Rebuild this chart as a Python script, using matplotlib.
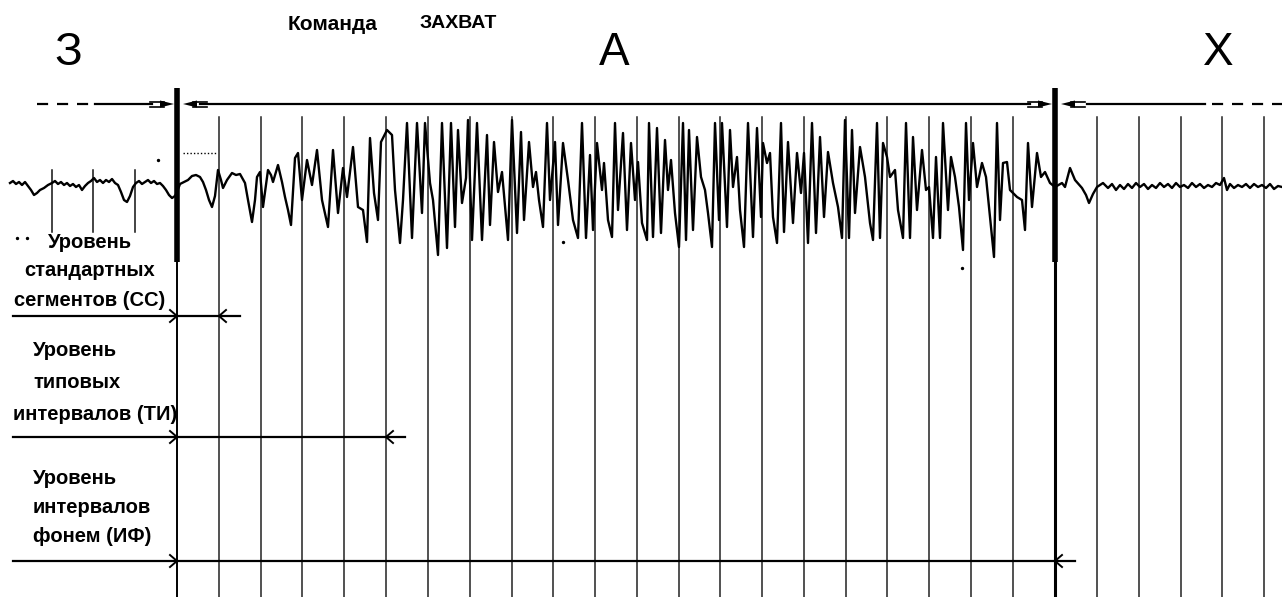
import numpy as np
import matplotlib.pyplot as plt
from matplotlib.patches import Polygon

# segment boundaries (horizontal position on the 1282 px wide sheet)
boundaries = [52, 93, 135, 177, 219, 261, 302, 344, 386, 428, 470, 512, 553,
              595, 637, 679, 720, 762, 804, 846, 887, 929, 971, 1013, 1055,
              1097, 1139, 1181, 1222, 1264]
word_start = 177
word_end = 1055

# phoneme labels over the word
phonemes = ["З", "А", "Х"]
phoneme_x = [68, 614, 1218]

# levels of segmentation: label, row, boundary where the interval ends
level_names = ["Уровень\nстандартных\nсегментов (СС)",
               "Уровень\nтиповых\nинтервалов (ТИ)",
               "Уровень\nинтервалов\nфонем (ИФ)"]
level_rows = [316, 437, 561]
level_ends = [219, 386, 1055]
level_tails = [240, 405, 1075]

# speech signal, turning points (time, level on sheet)
wave_t = [10, 13, 16, 19, 22, 25, 28, 31, 34, 37, 40, 44, 48, 52, 55, 58, 61, 64, 67, 70,
          73, 76, 79, 82, 85, 88, 91, 94, 97, 100, 103, 106, 109, 112, 115, 118, 121, 124,
          127, 130, 133, 136, 139, 142, 145, 148, 151, 154, 157, 160, 163, 166, 169, 172,
          175, 177, 180, 184, 188, 192, 196, 200, 203, 206, 209, 212, 215, 218, 221, 223,
          227, 232, 236, 240, 245, 248, 252, 255, 257, 260, 263, 266, 268, 271, 273, 276,
          278, 282, 285, 288, 291, 295, 298, 302, 307, 312, 317, 322, 328, 333, 338, 343,
          347, 353, 358, 363, 367, 370, 374, 378, 381, 387, 392, 395, 400, 403, 407, 412,
          417, 422, 425, 430, 433, 438, 442, 447, 451, 455, 458, 462, 466, 468, 472, 477,
          482, 487, 490, 494, 498, 502, 508, 512, 517, 521, 524, 529, 533, 536, 539, 543,
          547, 550, 555, 558, 563, 568, 573, 578, 582, 586, 590, 593, 597, 602, 604, 608,
          612, 615, 618, 623, 627, 631, 635, 638, 642, 647, 649, 653, 657, 661, 665, 668,
          671, 675, 679, 683, 686, 689, 693, 697, 701, 705, 708, 712, 715, 719, 722, 727,
          730, 733, 737, 740, 744, 748, 753, 757, 761, 763, 767, 770, 773, 777, 781, 784,
          788, 793, 797, 801, 804, 808, 812, 816, 820, 824, 828, 833, 838, 842, 845, 849,
          852, 855, 860, 865, 870, 873, 877, 880, 883, 887, 890, 895, 898, 903, 906, 910,
          913, 917, 922, 926, 929, 933, 936, 940, 943, 948, 951, 955, 959, 963, 966, 969,
          973, 977, 982, 986, 989, 994, 997, 1000, 1003, 1007, 1010, 1017, 1022, 1025,
          1028, 1032, 1037, 1041, 1045, 1050, 1055, 1062, 1065, 1070, 1075, 1082, 1086,
          1089, 1093, 1097, 1103, 1108, 1112, 1116, 1120, 1124, 1128, 1132, 1136, 1140,
          1144, 1148, 1152, 1156, 1160, 1164, 1168, 1172, 1176, 1180, 1184, 1188, 1192,
          1196, 1200, 1204, 1208, 1212, 1216, 1220, 1224, 1227, 1230, 1234, 1238, 1242,
          1246, 1250, 1254, 1258, 1262, 1266, 1270, 1274, 1278, 1282]
wave_y = [183, 181, 184, 182, 185, 182, 186, 190, 195, 193, 190, 188, 185, 183, 181, 184, 182,
          185, 183, 186, 184, 187, 185, 190, 186, 183, 181, 178, 182, 180, 183, 180, 182, 179,
          183, 185, 192, 200, 202, 196, 187, 183, 181, 184, 182, 180, 183, 181, 184, 183, 186,
          190, 195, 198, 196, 192, 184, 182, 180, 176, 175, 177, 182, 190, 200, 207, 196, 170,
          180, 188, 180, 173, 175, 174, 183, 200, 222, 200, 177, 172, 207, 185, 170, 175, 182,
          172, 165, 182, 197, 210, 225, 158, 153, 200, 160, 185, 150, 200, 227, 150, 213, 168,
          197, 147, 207, 210, 242, 138, 193, 220, 142, 130, 135, 190, 243, 200, 123, 238, 123,
          213, 123, 183, 200, 255, 123, 248, 123, 227, 130, 203, 178, 120, 240, 123, 240, 135,
          225, 142, 192, 172, 240, 120, 233, 132, 220, 142, 187, 172, 200, 227, 123, 200, 142,
          225, 143, 180, 220, 238, 123, 238, 155, 230, 143, 190, 163, 220, 237, 123, 210, 133,
          230, 143, 200, 162, 223, 240, 123, 237, 128, 233, 140, 190, 160, 213, 247, 123, 240,
          130, 230, 137, 177, 190, 213, 247, 123, 220, 123, 227, 130, 187, 157, 210, 247, 123,
          237, 128, 217, 143, 163, 153, 217, 243, 123, 232, 142, 223, 153, 193, 153, 243, 123,
          233, 137, 217, 152, 183, 207, 238, 120, 238, 130, 213, 147, 177, 223, 240, 123, 238,
          143, 157, 177, 170, 210, 238, 123, 238, 137, 210, 150, 190, 187, 238, 157, 238, 123,
          210, 157, 177, 207, 250, 123, 200, 143, 187, 163, 177, 207, 257, 123, 220, 163, 162,
          190, 197, 200, 230, 143, 207, 153, 177, 172, 183, 187, 183, 187, 168, 180, 188, 195,
          203, 194, 187, 183, 188, 184, 190, 185, 189, 184, 188, 183, 187, 184, 189, 185, 188,
          183, 187, 184, 188, 183, 187, 185, 188, 183, 187, 184, 188, 185, 187, 183, 185, 178,
          190, 184, 188, 185, 187, 184, 188, 184, 187, 185, 188, 184, 189, 186, 187]

# small stray specks of the scan
speck_x = [17, 27, 158, 563, 962]
speck_y = [238, 238, 160, 242, 268]

fig = plt.figure(figsize=(12.82, 5.97), dpi=100)
ax = fig.add_axes([0, 0, 1, 1])
ax.set_xlim(0, 1282)
ax.set_ylim(597, 0)
ax.axis("off")

# vertical boundaries
for x in boundaries:
    if x < word_start:
        ax.plot([x, x], [170, 232], color="#111111", lw=1.1)
    elif x in (word_start, word_end):
        ax.plot([x, x], [88, 262], color="black", lw=4.0, solid_capstyle="butt")
        ax.plot([x, x], [262, 597], color="black", lw=1.4 if x == word_start else 2.2)
    else:
        ax.plot([x, x], [117, 597], color="#222222", lw=1.1)

# signal
ax.plot(wave_t, wave_y, color="black", lw=1.7)
ax.plot([183, 217], [153, 153], color="black", lw=1, linestyle=(0, (1, 1.5)))
ax.scatter(speck_x, speck_y, s=2, color="black")

# top line with the word borders
ax.plot([37, 92], [104, 104], color="black", lw=1.6, linestyle=(0, (5, 4)))
ax.plot([95, 152], [104, 104], color="black", lw=1.6)
ax.plot([200, 1030], [104, 104], color="black", lw=1.6)
ax.plot([1087, 1205], [104, 104], color="black", lw=1.6)
ax.plot([1212, 1282], [104, 104], color="black", lw=1.6, linestyle=(0, (5, 4)))


def fat_arrow(tip, direction):
    # feathered arrow touching the word border
    d = direction
    for dy in (-2.5, 2.5):
        ax.plot([tip - d * 26, tip - d * 12], [104 + dy, 104 + dy], color="black", lw=1.2)
    ax.add_patch(Polygon([[tip - d * 2, 104], [tip - d * 16, 100.5], [tip - d * 16, 107.5]],
                         closed=True, color="black", lw=0))


fat_arrow(word_start - 1, 1)
fat_arrow(word_start + 4, -1)
fat_arrow(word_end - 1, 1)
fat_arrow(word_end + 4, -1)

for k, t in enumerate(phonemes):
    ax.text(phoneme_x[k], 53, t, fontsize=33, family="Liberation Sans",
            ha="center", va="center", color="black")

ax.text(288, 24, "Команда", fontsize=15, fontweight="bold", family="Liberation Sans",
        ha="left", va="center")
ax.text(420, 24, "ЗАХВАТ", fontsize=14, fontweight="bold",
        family="Liberation Sans", ha="left", va="center")

# levels: offset of the last label line above the arrow row, line spacing
label_lift = [16, 23, 24]
label_step = [29, 31.5, 29.5]
for k, name in enumerate(level_names):
    y = level_rows[k]
    ax.plot([13, level_tails[k]], [y, y], color="black", lw=1.6)
    ax.plot([word_start - 7, word_start, word_start - 7], [y - 6, y, y + 6], color="black", lw=1.4)
    e = level_ends[k]
    ax.plot([e + 7, e, e + 7], [y - 6, y, y + 6], color="black", lw=1.4)
    lines = name.split("\n")
    for j, line in enumerate(lines):
        yy = y - label_lift[k] - (len(lines) - 1 - j) * label_step[k]
        if k == 0:
            ax.text(90, yy, line, fontsize=14.5, fontweight="bold", family="Liberation Sans",
                    ha="center", va="center")
        else:
            xx = 13 if j == len(lines) - 1 and k == 1 else 33
            ax.text(xx, yy, line, fontsize=14.5, fontweight="bold", family="Liberation Sans",
                    ha="left", va="center")

fig.savefig("out.png", dpi=100)
